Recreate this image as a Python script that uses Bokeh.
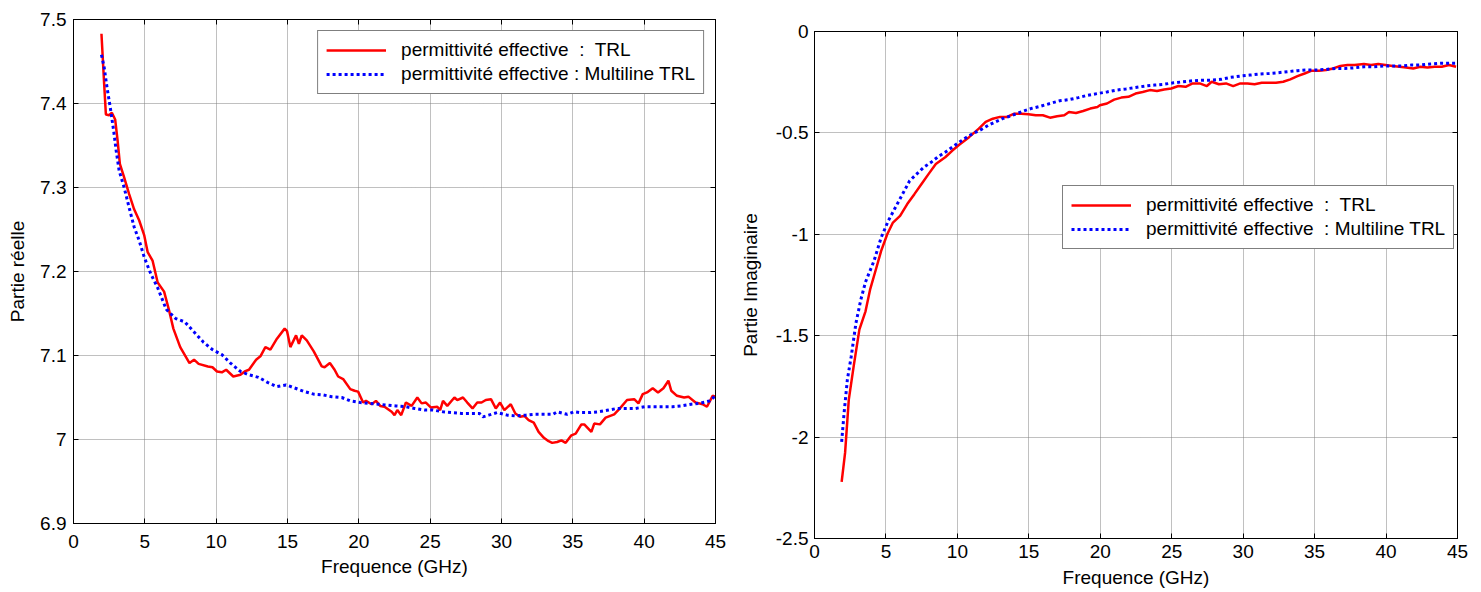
from bokeh.plotting import figure
from bokeh.layouts import row, column
from bokeh.models import (Range1d, FixedTicker, LinearAxis, Legend, LegendItem,
                          CustomJSTickFormatter, CustomLabelingPolicy)
from bokeh.embed import file_html
from bokeh.resources import INLINE

# ---------------- data ----------------
x_ticks = [0, 5, 10, 15, 20, 25, 30, 35, 40, 45]
y_ticks_re = [6.9, 7.0, 7.1, 7.2, 7.3, 7.4, 7.5]
y_ticks_im = [-2.5, -2.0, -1.5, -1.0, -0.5, 0.0]

freq_re_trl = [1.96, 2.15, 2.27, 2.5, 2.69, 2.92, 3.09, 3.25, 3.55, 3.9,
               4.25, 4.6, 4.96, 5.2, 5.54, 5.9, 6.35, 6.68, 7.0, 7.48,
               8.13, 8.45, 8.77, 9.42, 9.74, 10.06, 10.4, 10.7, 11.2, 11.7,
               12.0, 12.3, 12.8, 13.1, 13.45, 13.8, 14.26, 14.8, 14.97, 15.2,
               15.6, 15.8, 16.0, 16.35, 16.84, 17.4, 17.6, 17.97, 18.3, 18.55,
               18.9, 19.4, 19.7, 19.95, 20.3, 20.5, 20.9, 21.2, 21.5, 21.8,
               22.3, 22.5, 22.7, 22.97, 23.3, 23.7, 24.1, 24.4, 24.7, 25.06,
               25.5, 25.7, 25.9, 26.2, 26.7, 26.9, 27.3, 27.6, 27.97, 28.3,
               28.6, 28.9, 29.26, 29.6, 29.9, 30.2, 30.65, 30.97, 31.3, 31.6,
               31.9, 32.26, 32.6, 32.97, 33.3, 33.55, 33.9, 34.2, 34.5, 34.9,
               35.2, 35.6, 35.8, 36.3, 36.5, 36.9, 37.3, 37.9, 38.3, 38.8,
               39.3, 39.6, 39.9, 40.2, 40.6, 40.97, 41.35, 41.7, 41.9, 42.3,
               42.8, 43.1, 43.6, 44.1, 44.4, 44.8, 45.0]
re_trl = [7.483, 7.423, 7.387, 7.386, 7.389, 7.381, 7.356, 7.328, 7.312, 7.292,
          7.274, 7.261, 7.243, 7.223, 7.213, 7.187, 7.176, 7.155, 7.132, 7.110,
          7.091, 7.095, 7.090, 7.087, 7.086, 7.081, 7.080, 7.083, 7.075, 7.077,
          7.081, 7.083, 7.095, 7.099, 7.110, 7.107, 7.120, 7.132, 7.129, 7.110,
          7.124, 7.114, 7.124, 7.118, 7.105, 7.087, 7.086, 7.091, 7.083, 7.075,
          7.072, 7.060, 7.058, 7.057, 7.044, 7.046, 7.042, 7.046, 7.040, 7.039,
          7.033, 7.029, 7.035, 7.029, 7.044, 7.040, 7.050, 7.043, 7.044, 7.038,
          7.039, 7.035, 7.046, 7.040, 7.050, 7.047, 7.050, 7.044, 7.037, 7.044,
          7.044, 7.047, 7.048, 7.037, 7.044, 7.035, 7.042, 7.031, 7.027, 7.028,
          7.023, 7.020, 7.009, 7.002, 6.998, 6.996, 6.997, 6.999, 6.996, 7.005,
          7.007, 7.018, 7.018, 7.009, 7.019, 7.018, 7.026, 7.030, 7.037, 7.047,
          7.048, 7.043, 7.054, 7.056, 7.061, 7.056, 7.061, 7.070, 7.058, 7.052,
          7.050, 7.051, 7.044, 7.042, 7.039, 7.052, 7.051]

freq_re_multi = [1.96, 2.15, 2.35, 2.58, 2.82, 2.99, 3.2, 3.55, 3.9, 4.25,
                 4.6, 4.96, 5.42, 5.89, 6.5, 7.16, 7.8, 8.45, 9.1, 9.74,
                 10.4, 11.0, 11.7, 12.3, 12.97, 13.6, 14.26, 14.9, 15.55, 16.2,
                 16.84, 17.5, 18.1, 18.8, 19.4, 20.1, 20.7, 21.35, 22.0, 22.6,
                 23.3, 23.9, 24.6, 25.2, 25.9, 26.5, 27.2, 27.8, 28.45, 28.7,
                 29.1, 29.7, 30.4, 31.0, 31.7, 32.3, 33.0, 33.6, 33.9, 34.6,
                 35.1, 35.5, 36.2, 36.8, 37.5, 38.1, 38.8, 39.4, 40.06, 40.7,
                 41.35, 42.0, 42.6, 43.3, 43.9, 44.6, 45.0]
re_multi = [7.458, 7.443, 7.419, 7.395, 7.367, 7.344, 7.320, 7.300, 7.276, 7.253,
            7.237, 7.217, 7.197, 7.181, 7.155, 7.144, 7.140, 7.128, 7.116, 7.107,
            7.101, 7.091, 7.081, 7.077, 7.074, 7.068, 7.063, 7.065, 7.061, 7.057,
            7.054, 7.053, 7.051, 7.050, 7.046, 7.044, 7.043, 7.042, 7.041, 7.040,
            7.039, 7.037, 7.035, 7.035, 7.033, 7.032, 7.031, 7.031, 7.031, 7.027,
            7.029, 7.032, 7.029, 7.028, 7.029, 7.030, 7.030, 7.030, 7.033, 7.030,
            7.033, 7.032, 7.032, 7.033, 7.035, 7.037, 7.037, 7.037, 7.039, 7.039,
            7.039, 7.039, 7.040, 7.042, 7.043, 7.046, 7.052]

freq_im_trl = [1.9, 2.14, 2.4, 2.74, 3.14, 3.57, 3.9, 4.33, 4.66, 5.09,
               5.49, 5.99, 6.49, 6.99, 7.49, 7.99, 8.49, 9.15, 9.65, 10.15,
               10.82, 11.5, 11.98, 12.48, 12.98, 13.48, 13.98, 14.48, 14.98, 15.48,
               15.98, 16.48, 16.98, 17.48, 17.81, 18.3, 18.8, 19.3, 19.8, 19.97,
               20.47, 20.97, 21.47, 21.97, 22.47, 22.97, 23.47, 23.97, 24.47, 24.97,
               25.47, 25.97, 26.46, 26.96, 27.46, 27.8, 28.3, 28.8, 29.3, 29.8,
               30.3, 30.8, 31.3, 31.8, 32.3, 32.8, 33.3, 33.8, 34.3, 34.8,
               35.3, 35.8, 36.3, 36.8, 37.3, 37.8, 38.45, 38.95, 39.45, 39.95,
               40.45, 40.94, 41.4, 41.9, 42.4, 42.9, 43.4, 43.9, 44.4, 44.9]
im_trl = [-2.221, -2.078, -1.815, -1.651, -1.470, -1.380, -1.27, -1.165, -1.083, -1.0,
          -0.942, -0.909, -0.851, -0.802, -0.752, -0.702, -0.653, -0.620, -0.587, -0.557,
          -0.521, -0.479, -0.446, -0.430, -0.421, -0.421, -0.405, -0.405, -0.408, -0.413,
          -0.413, -0.425, -0.418, -0.413, -0.397, -0.402, -0.392, -0.380, -0.372, -0.364,
          -0.355, -0.336, -0.326, -0.322, -0.306, -0.298, -0.289, -0.293, -0.286, -0.281,
          -0.269, -0.273, -0.256, -0.256, -0.269, -0.248, -0.260, -0.256, -0.269, -0.256,
          -0.256, -0.260, -0.253, -0.253, -0.253, -0.248, -0.236, -0.220, -0.207, -0.193,
          -0.193, -0.190, -0.182, -0.170, -0.165, -0.165, -0.160, -0.165, -0.160, -0.165,
          -0.170, -0.174, -0.177, -0.182, -0.174, -0.177, -0.174, -0.174, -0.165, -0.174]

freq_im_multi = [1.9, 2.07, 2.3, 2.57, 2.9, 3.24, 3.57, 4.16, 4.66, 5.16,
                 5.66, 6.16, 6.66, 7.16, 7.66, 8.16, 8.66, 9.15, 9.65, 10.15,
                 10.65, 11.15, 11.65, 12.15, 12.65, 13.15, 13.65, 14.15, 14.65, 15.15,
                 15.8, 16.48, 17.14, 17.81, 18.47, 19.14, 19.8, 20.47, 21.14, 21.8,
                 22.47, 23.14, 23.8, 24.47, 25.13, 25.8, 26.46, 27.13, 27.8, 28.46,
                 29.13, 29.8, 30.46, 31.12, 31.8, 32.46, 33.12, 33.8, 34.45, 35.1,
                 35.8, 36.45, 37.1, 37.8, 38.45, 39.1, 39.8, 40.4, 41.1, 41.8,
                 42.4, 43.1, 43.8, 44.4, 44.9]
im_multi = [-2.024, -1.881, -1.717, -1.602, -1.438, -1.323, -1.235, -1.132, -1.017, -0.934,
            -0.868, -0.802, -0.736, -0.702, -0.669, -0.645, -0.617, -0.595, -0.570, -0.545,
            -0.521, -0.501, -0.484, -0.463, -0.446, -0.430, -0.418, -0.405, -0.392, -0.380,
            -0.369, -0.355, -0.342, -0.336, -0.326, -0.314, -0.306, -0.298, -0.289, -0.283,
            -0.276, -0.269, -0.264, -0.260, -0.253, -0.248, -0.243, -0.240, -0.240, -0.236,
            -0.226, -0.220, -0.215, -0.210, -0.207, -0.203, -0.198, -0.193, -0.190, -0.190,
            -0.187, -0.182, -0.182, -0.179, -0.174, -0.174, -0.170, -0.170, -0.170, -0.165,
            -0.165, -0.160, -0.157, -0.157, -0.157]

labels_left = ["permittivité effective  :  TRL", "permittivité effective : Multiline TRL"]
labels_right = ["permittivité effective  :  TRL", "permittivité effective  : Multiline TRL"]

# ---------------- styling ----------------
FONT = "Liberation Sans"
TICK_FS = "19px"
LABEL_FS = "19px"
LEG_FS = "19px"
RED = "#ff0000"
BLUE = "#0000ff"

fmt_code = "return String(Math.round(tick*10)/10);"


def make_fig(width, height, yr, yticks, ylabel, borders, xstand, ystand):
    bl, br, bt, bb = borders
    p = figure(width=width, height=height, output_backend="svg", toolbar_location=None,
               x_range=Range1d(0, 45), y_range=Range1d(*yr),
               min_border_left=bl, min_border_right=br, min_border_top=bt, min_border_bottom=bb)
    p.outline_line_color = "black"
    p.outline_line_width = 1
    p.background_fill_color = "white"
    p.border_fill_color = "white"
    xt = FixedTicker(ticks=x_ticks)
    yt = FixedTicker(ticks=yticks)
    p.xaxis.ticker = xt
    p.yaxis.ticker = yt
    p.xgrid.ticker = xt
    p.ygrid.ticker = yt
    for ax in (p.xaxis[0], p.yaxis[0]):
        ax.formatter = CustomJSTickFormatter(code=fmt_code)
        ax.major_tick_in = 5
        ax.major_tick_out = 0
        ax.minor_tick_in = 0
        ax.minor_tick_out = 0
        ax.axis_line_color = "black"
        ax.major_tick_line_color = "black"
        ax.major_label_text_font = FONT
        ax.major_label_text_font_size = TICK_FS
        ax.major_label_text_color = "black"
        ax.axis_label_text_font = FONT
        ax.axis_label_text_font_size = LABEL_FS
        ax.axis_label_text_font_style = "normal"
        ax.axis_label_text_color = "black"
    p.xaxis[0].axis_label = "Frequence (GHz)"
    p.yaxis[0].axis_label = ylabel
    p.xaxis[0].major_label_standoff = xstand[0]
    p.xaxis[0].axis_label_standoff = xstand[1]
    p.yaxis[0].major_label_standoff = ystand[0]
    p.yaxis[0].axis_label_standoff = ystand[1]
    for g in (p.xgrid[0], p.ygrid[0]):
        g.grid_line_color = "#808080"
        g.grid_line_dash = "1 1"
        g.grid_line_width = 1
    # box ticks on top and right (MATLAB style), without labels
    no_labels = CustomLabelingPolicy(code="return new Set()")
    top = LinearAxis(ticker=xt, major_label_policy=no_labels, major_label_text_font_size="1px",
                     major_tick_in=5, major_tick_out=0, minor_tick_in=0, minor_tick_out=0,
                     major_label_standoff=0, axis_line_color="black")
    right = LinearAxis(ticker=yt, major_label_policy=no_labels, major_label_text_font_size="1px",
                       major_tick_in=5, major_tick_out=0, minor_tick_in=0, minor_tick_out=0,
                       major_label_standoff=0, axis_line_color="black")
    p.add_layout(top, "above")
    p.add_layout(right, "right")
    return p


def make_legend(items, location, margin=10):
    return Legend(items=items, location=location,
                  border_line_color="black", border_line_width=1,
                  background_fill_color="white", background_fill_alpha=1,
                  label_text_font=FONT, label_text_font_size=LEG_FS,
                  label_text_color="black",
                  glyph_width=60, glyph_height=20, label_height=20,
                  label_standoff=15, padding=8, spacing=2, margin=margin)


# ---------------- left chart ----------------
p1 = make_fig(736, 592, (6.9, 7.5), y_ticks_re, "Partie réelle", (73, 21, 19, 69),
              (11, 5), (7, 9))
r1 = p1.line(freq_re_trl, re_trl, line_color=RED, line_width=2.5)
r2 = p1.line(freq_re_multi, re_multi, line_color=BLUE, line_width=3, line_dash="3 3")
leg1 = make_legend([LegendItem(label=labels_left[0], renderers=[r1]),
                    LegendItem(label=labels_left[1], renderers=[r2])], "top_right", margin=11)
p1.add_layout(leg1)

# ---------------- right chart ----------------
p2 = make_fig(745, 592, (-2.5, 0), y_ticks_im, "Partie Imaginaire", (73, 24, 31, 54),
              (6, 6), (6, 12))
r3 = p2.line(freq_im_trl, im_trl, line_color=RED, line_width=2.5)
r4 = p2.line(freq_im_multi, im_multi, line_color=BLUE, line_width=3, line_dash="3 3")
r4m = p2.scatter([], [], marker="circle", size=7, color=BLUE)
leg2 = make_legend([LegendItem(label=labels_right[0], renderers=[r3]),
                    LegendItem(label=labels_right[1], renderers=[r4, r4m])], (248, 289))
p2.add_layout(leg2)

layout = row(column(p1), column(p2))
open("out.html", "w").write(file_html(layout, INLINE))
